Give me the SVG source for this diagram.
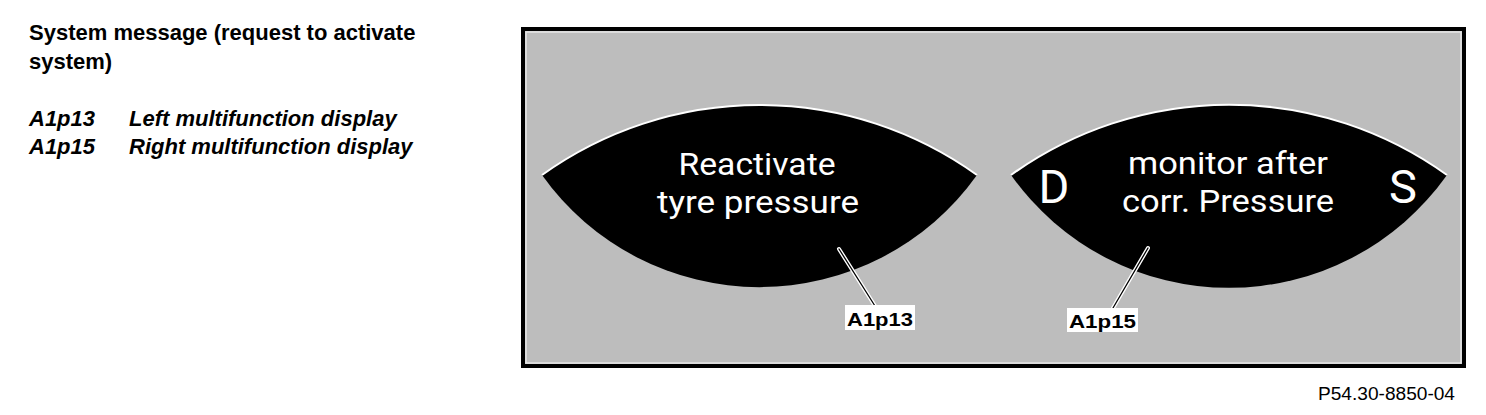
<svg xmlns="http://www.w3.org/2000/svg" width="1486" height="415" viewBox="0 0 1486 415">
  <style>
    .legend { font-family: "Liberation Sans", Arial, sans-serif; font-size: 22px; font-weight: bold; fill: #000; }
    .it { font-style: italic; }
    .disp { font-family: Roboto, "Liberation Sans", Arial, sans-serif; font-size: 32px; fill: #fff; text-anchor: middle; }
    .big { font-family: Roboto, "Liberation Sans", Arial, sans-serif; font-size: 47px; fill: #fff; text-anchor: middle; }
    .lens { fill: #000; }
    .rim { fill: none; stroke: #fff; stroke-width: 2; }
    .tagbox { fill: #fff; }
    .tag { font-family: "Liberation Sans", Arial, sans-serif; font-size: 18px; font-weight: bold; fill: #000; }
    .halo { stroke: #fff; stroke-width: 4; stroke-linecap: round; }
    .lead { stroke: #000; stroke-width: 1.3; stroke-linecap: round; }
    .ref { font-family: "Liberation Sans", Arial, sans-serif; font-size: 18px; fill: #000; }
  </style>
  <rect width="1486" height="415" fill="#fff"/>

  <g id="legend">
    <text class="legend" x="29" y="40">System message (request to activate</text>
    <text class="legend" x="29" y="69">system)</text>
    <text class="legend it" x="29" y="126">A1p13</text>
    <text class="legend it" x="129" y="126">Left multifunction display</text>
    <text class="legend it" x="29" y="154">A1p15</text>
    <text class="legend it" x="129" y="154">Right multifunction display</text>
  </g>

  <g id="frame">
    <rect x="523" y="29" width="941" height="337" fill="#bdbdbd" stroke="#000" stroke-width="4"/>
    <rect x="526" y="32" width="935" height="331" fill="none" stroke="#e6e6e6" stroke-width="1.5"/>
  </g>

  <g id="display-left">
    <path class="lens" d="M542,175 A373,373 0 0 1 977,175 A267,267 0 0 1 542,175 Z"/>
    <path class="rim" d="M542,175 A373,373 0 0 1 977,175"/>
    <text class="disp" x="757" y="175" textLength="157" lengthAdjust="spacingAndGlyphs">Reactivate</text>
    <text class="disp" x="758" y="213" textLength="202" lengthAdjust="spacingAndGlyphs">tyre pressure</text>
  </g>

  <g id="display-right">
    <path class="lens" d="M1011,175 A373,373 0 0 1 1447,175 A267,267 0 0 1 1011,175 Z"/>
    <path class="rim" d="M1011,175 A373,373 0 0 1 1447,175"/>
    <text class="big" x="1054" y="203">D</text>
    <text class="big" x="1403" y="203">S</text>
    <text class="disp" x="1228" y="174" textLength="200" lengthAdjust="spacingAndGlyphs">monitor after</text>
    <text class="disp" x="1228" y="212" textLength="212" lengthAdjust="spacingAndGlyphs">corr. Pressure</text>
  </g>

  <g id="connectors">
    <line class="halo" x1="839" y1="249" x2="875" y2="306"/>
    <line class="lead" x1="839" y1="249" x2="875" y2="306"/>
    <line class="halo" x1="1148" y1="248" x2="1113" y2="308"/>
    <line class="lead" x1="1148" y1="248" x2="1113" y2="308"/>
  </g>

  <g id="label-A1p13">
    <rect class="tagbox" x="845" y="305" width="70" height="25"/>
    <text class="tag" x="847" y="326" textLength="66" lengthAdjust="spacingAndGlyphs">A1p13</text>
  </g>
  <g id="label-A1p15">
    <rect class="tagbox" x="1067" y="308" width="71" height="24"/>
    <text class="tag" x="1069" y="328" textLength="67" lengthAdjust="spacingAndGlyphs">A1p15</text>
  </g>

  <g id="reference">
    <text class="ref" x="1318" y="400" textLength="137" lengthAdjust="spacingAndGlyphs">P54.30-8850-04</text>
  </g>
</svg>
